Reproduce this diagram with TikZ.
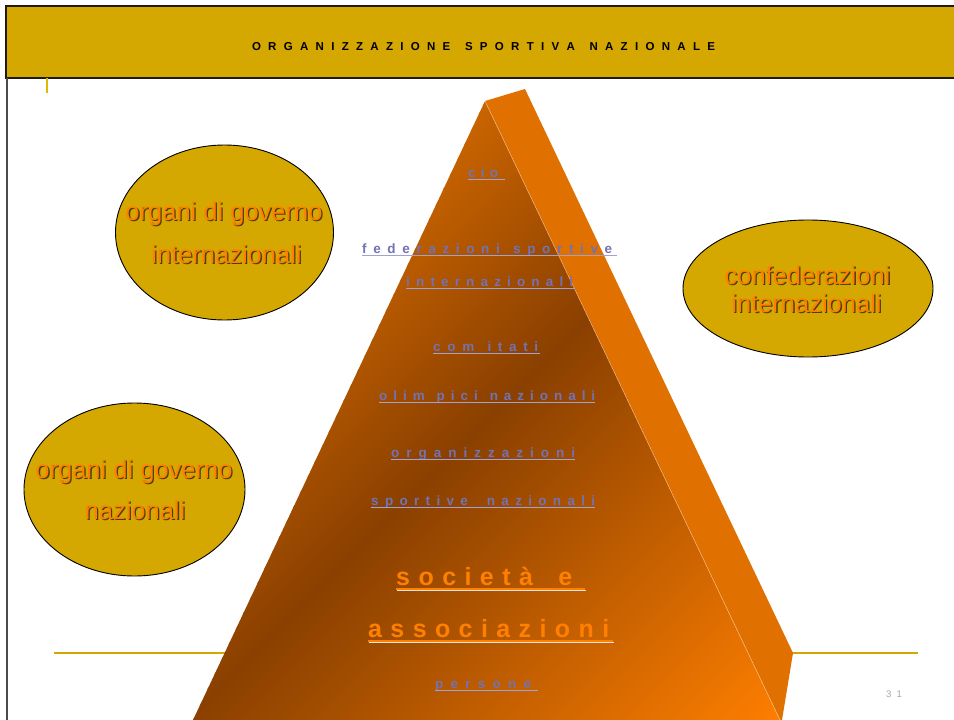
\documentclass[tikz,border=0pt]{standalone}
\usepackage{fontspec}
\setmainfont{Liberation Sans}
\usetikzlibrary{shapes.geometric}
\definecolor{gold}{HTML}{D4A800}
\definecolor{hdrline}{HTML}{1E1A10}
\definecolor{pA}{HTML}{C96400}
\definecolor{pB}{HTML}{8A4000}
\definecolor{pC}{HTML}{FF7F00}
\definecolor{sidec}{HTML}{E07000}
\definecolor{lav}{HTML}{7272B4}
\definecolor{lavul}{HTML}{A0A2D2}
\definecolor{orng}{HTML}{FF8000}
\definecolor{shad}{HTML}{4E3E10}
\tikzset{
  ptext/.style={font=\bfseries\fontsize{13.5}{14}\selectfont, text=lav, anchor=base west, inner sep=0pt},
  btext/.style={font=\bfseries\fontsize{25}{26}\selectfont, text=orng, anchor=base west, inner sep=0pt},
  ul/.style={draw=lavul, line width=1.6pt},
  bul/.style={draw=orng, line width=2pt},
  ell/.style={ellipse, draw=black, line width=0.9pt, fill=gold, inner sep=0pt},
  etext/.style={font=\fontsize{25.5}{26}\selectfont, text=orng, anchor=base, inner sep=0pt},
  eshadow/.style={font=\fontsize{25.5}{26}\selectfont, text=shad, anchor=base, inner sep=0pt},
}
\newcommand\ptx[6]{%
  \node[ptext] (#1) at (#2,#3) {\makebox[#4pt][s]{#6}};
  \draw[ul] (#1.base west) ++(0,2.5) -- ++(#5,0);}
\newcommand\btx[6]{%
  \node[btext] (#1) at (#2,#3) {\makebox[#4pt][s]{#6}};
  \draw[bul] (#1.base west) ++(0,3.5) -- ++(#5,0);
  \draw[white!80!gray, line width=1pt] (#1.base west) ++(1,5.2) -- ++(#5,0);}
\newcommand\etx[4]{%
  \node[eshadow] (#1s) at (#2+1.3,#3+1.3) {#4};
  \node[etext] (#1) at (#2,#3) {#4};}
\begin{document}
\begin{tikzpicture}[x=1pt,y=-1pt]
\useasboundingbox (0,0) rectangle (954,720);
\fill[white] (0,0) rectangle (954,720);

% header
\draw[fill=gold, draw=hdrline, line width=2pt] (6,6) rectangle (965,77.5);
\node[font=\bfseries\fontsize{11.5}{12}\selectfont, anchor=base, inner sep=0pt] (title) at (483.5,50)
  {\makebox[463pt][s]{O\ R\ G\ A\ N\ I\ Z\ Z\ A\ Z\ I\ O\ N\ E\ \ S\ P\ O\ R\ T\ I\ V\ A\ \ N\ A\ Z\ I\ O\ N\ A\ L\ E}};
\draw[black!70, line width=1.3pt] (7,78) -- (7,720);
\draw[gold!80!yellow, line width=2pt] (46.5,78) -- (46.5,93);

% gold rule
\draw[gold, line width=2.2pt] (54,653) -- (918,653);

% pyramid side face
\fill[sidec] (485,101) -- (525,89) -- (793,653) -- (782,720) -- (780,720) -- cycle;
% pyramid front face with diagonal gradient
\begin{scope}
\clip (485,101) -- (193,720) -- (780,720) -- cycle;
\foreach \s in {576,584,...,1512}{
  \ifnum\s<900
    \pgfmathtruncatemacro\p{max(0,min(100,(\s-586)/3.14))}
    \colorlet{cc}{pB!\p!pA}
  \else
    \pgfmathtruncatemacro\p{max(0,min(100,(\s-900)/6))}
    \colorlet{cc}{pC!\p!pB}
  \fi
  \fill[cc] (\s+100,-100) -- (\s-900,900) -- (\s-891,900) -- (\s+109,-100) -- cycle;
}
\end{scope}
\draw[white!70!orange, line width=0.5pt, opacity=0.7] (485,101) -- (780,720);

% pyramid labels
\ptx{cio}{468}{177}{30}{37}{c\ i\ o}
\ptx{fed}{362}{253}{250}{255}{f\ e\ d\ e\ r\ a\ z\ i\ o\ n\ i\ \ s\ p\ o\ r\ t\ i\ v\ e}
\ptx{intl}{406}{286}{167}{169}{i\ n\ t\ e\ r\ n\ a\ z\ i\ o\ n\ a\ l\ i}
\ptx{com}{433}{351}{105}{107}{c\ o\ m\ \ i\ t\ a\ t\ i}
\ptx{olim}{379}{400}{216}{216}{o\ l\ i\ m\ \ p\ i\ c\ i\ \ n\ a\ z\ i\ o\ n\ a\ l\ i}
\ptx{org}{391}{457}{184}{184}{o\ r\ g\ a\ n\ i\ z\ z\ a\ z\ i\ o\ n\ i}
\ptx{spn}{371}{505}{224}{224}{s\ p\ o\ r\ t\ i\ v\ e\ \ \ n\ a\ z\ i\ o\ n\ a\ l\ i}
\btx{soc}{396}{585}{176}{189}{s\ o\ c\ i\ e\ t\ à\ \ \ e}
\btx{ass}{368}{637}{241}{245}{a\ s\ s\ o\ c\ i\ a\ z\ i\ o\ n\ i}
\ptx{pers}{435}{688}{96}{103}{p\ e\ r\ s\ o\ n\ e}

% ellipses
\node[ell, minimum width=218pt, minimum height=175pt] (e1) at (224.5,232.5) {};
\etx{e1a}{224}{220}{organi di governo}
\etx{e1b}{226.5}{263}{internazionali}
\node[ell, minimum width=221pt, minimum height=173pt] (e2) at (134.5,489.5) {};
\etx{e2a}{134}{478}{organi di governo}
\etx{e2b}{135}{519}{nazionali}
\node[ell, minimum width=250pt, minimum height=137pt] (e3) at (808,288.5) {};
\etx{e3a}{807.5}{284}{confederazioni}
\etx{e3b}{806.5}{312}{internazionali}

% page number
\node[font=\fontsize{9.5}{10}\selectfont, text=black!35, inner sep=0pt] (pg) at (894,694) {3\ \ 1};
\end{tikzpicture}
\end{document}
